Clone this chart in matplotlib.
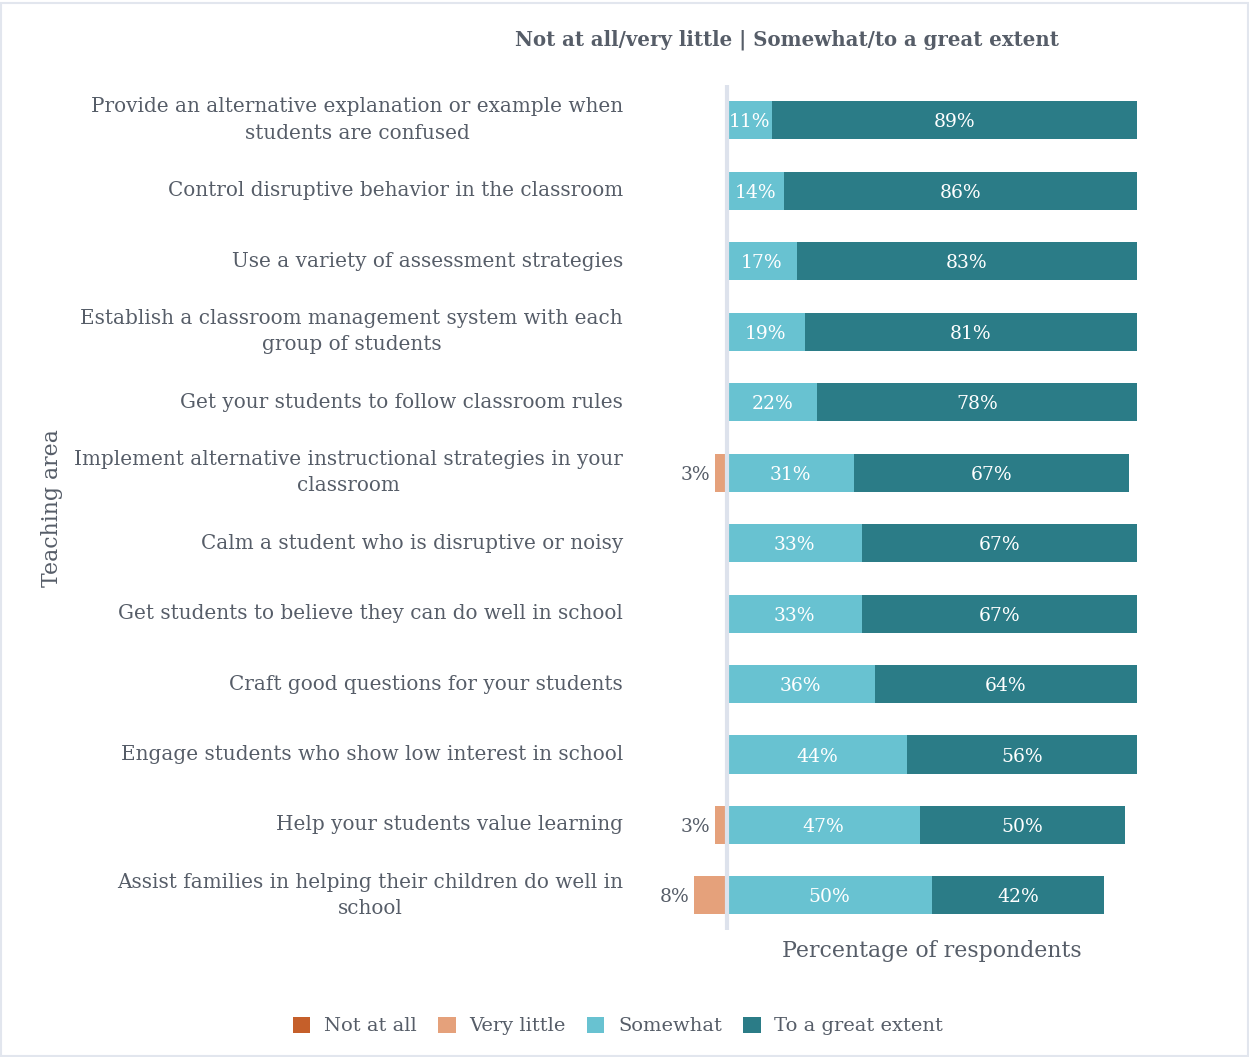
import matplotlib
matplotlib.use("Agg")
import matplotlib.pyplot as plt
from matplotlib.patches import Rectangle, Patch
import matplotlib.transforms as mtransforms

plt.rcParams['font.family'] = ['DejaVu Serif']

categories = [
    "Provide an alternative explanation or example when\nstudents are confused",
    "Control disruptive behavior in the classroom",
    "Use a variety of assessment strategies",
    "Establish a classroom management system with each\ngroup of students",
    "Get your students to follow classroom rules",
    "Implement alternative instructional strategies in your\nclassroom",
    "Calm a student who is disruptive or noisy",
    "Get students to believe they can do well in school",
    "Craft good questions for your students",
    "Engage students who show low interest in school",
    "Help your students value learning",
    "Assist families in helping their children do well in\nschool",
]
not_at_all = [0, 0, 0, 0, 0, 0, 0, 0, 0, 0, 0, 0]
very_little = [0, 0, 0, 0, 0, 3, 0, 0, 0, 0, 3, 8]
somewhat = [11, 14, 17, 19, 22, 31, 33, 33, 36, 44, 47, 50]
great_extent = [89, 86, 83, 81, 78, 67, 67, 67, 64, 56, 50, 42]

series_names = ["Not at all", "Very little", "Somewhat", "To a great extent"]
colors = ["#C55F2A", "#E5A17B", "#68C2D1", "#2B7C87"]
text_gray = "#565D68"

W, H = 1249, 1057
fig = plt.figure(figsize=(W / 100, H / 100), dpi=100)

# axes placement in pixels
ax_left, ax_right, ax_top, ax_bottom = 686, 1137, 85, 930
ax = fig.add_axes([ax_left / W, 1 - ax_bottom / H,
                   (ax_right - ax_left) / W, (ax_bottom - ax_top) / H])

ys = list(range(len(categories)))
bh = 0.54

for i, y in enumerate(ys):
    vl = very_little[i] / 100
    na = not_at_all[i] / 100
    sw = somewhat[i] / 100
    ge = great_extent[i] / 100
    if vl > 0:
        ax.barh(y, -vl, left=0, height=bh, color=colors[1], edgecolor="none")
        ax.text(-vl - 0.012, y, f"{very_little[i]}%", ha="right", va="center_baseline",
                fontsize=13.5, color=text_gray)
    if na > 0:
        ax.barh(y, -na, left=-vl, height=bh, color=colors[0], edgecolor="none")
    ax.barh(y, sw, left=0, height=bh, color=colors[2], edgecolor="none")
    ax.barh(y, ge, left=sw, height=bh, color=colors[3], edgecolor="none")
    ax.text(sw / 2, y, f"{somewhat[i]}%", ha="center", va="center_baseline",
            fontsize=13.5, color="white")
    ax.text(sw + ge / 2, y, f"{great_extent[i]}%", ha="center", va="center_baseline",
            fontsize=13.5, color="white")

ax.axvline(0, color="#DDE2EC", lw=3, zorder=5)

ax.set_xlim(-0.10, 1.0)
ax.set_ylim(11.49, -0.5)
ax.set_xticks([])
ax.set_yticks([])
for s in ax.spines.values():
    s.set_visible(False)

# category labels, right-aligned left of the plot
trans = mtransforms.blended_transform_factory(fig.transFigure, ax.transData)
for y, c in zip(ys, categories):
    ax.text(623 / W, y, c, transform=trans, ha="right", va="center",
            multialignment="center", fontsize=14.4, color=text_gray,
            linespacing=1.5)

fig.text(52 / W, 1 - 508 / H, "Teaching area", rotation=90, ha="center",
         va="center", fontsize=15.8, color=text_gray)
fig.text(932 / W, 1 - 951 / H, "Percentage of respondents", ha="center",
         va="center", fontsize=15.8, color=text_gray)
fig.text(787 / W, 1 - 40 / H, "Not at all/very little | Somewhat/to a great extent",
         ha="center", va="center", fontsize=14.2, fontweight="bold", color=text_gray)

handles = [Patch(facecolor=c, edgecolor="none") for c in colors]
fig.legend(handles, series_names, loc="center", bbox_to_anchor=(618 / W, 1 - 1026 / H),
           ncol=4, frameon=False, fontsize=14, handlelength=0.9, handleheight=0.9,
           handletextpad=0.7, columnspacing=1.1, labelcolor=text_gray)

fig.add_artist(Rectangle((0.001, 0.001), 0.998, 0.996, transform=fig.transFigure,
                         fill=False, edgecolor="#E2E6EE", lw=1.5))

fig.savefig("out.png", dpi=100, facecolor="white")
